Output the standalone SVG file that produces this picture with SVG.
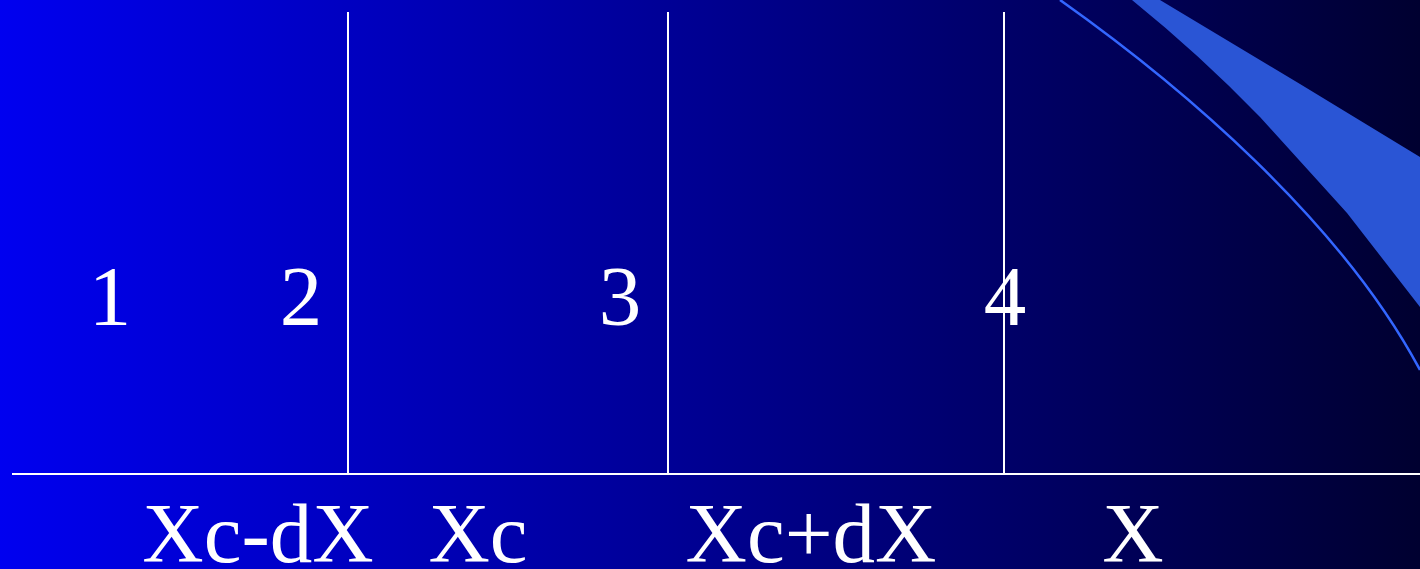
<svg xmlns="http://www.w3.org/2000/svg" width="1420" height="569" viewBox="0 0 1420 569">
  <defs>
    <linearGradient id="bg" x1="0" y1="0" x2="1" y2="0">
      <stop offset="0" stop-color="#0000F0"/>
      <stop offset="1" stop-color="#000030"/>
    </linearGradient>
  </defs>
  <style>
    .lbl { font-family: "Liberation Serif", "Times New Roman", serif; font-size: 85px; fill: #FFFFFF; text-anchor: middle; }
    .axis { stroke: #FFFFFF; stroke-width: 2; fill: none; }
  </style>
  <rect id="background" x="0" y="0" width="1420" height="569" fill="url(#bg)"/>
  <g id="decoration">
    <path d="M1132,0 L1160,0 L1300,84 L1420,157 L1420,307 L1347,213 L1260,117 Q1200,55 1132,0 Z" fill="#2A55D5"/>
    <path d="M1060,0 C1180,85 1340,220 1420,370" fill="none" stroke="#3366FF" stroke-width="2.5"/>
  </g>
  <g id="connectors">
    <line class="axis" x1="12" y1="474" x2="1420" y2="474"/>
    <line class="axis" x1="348" y1="12" x2="348" y2="474"/>
    <line class="axis" x1="668" y1="12" x2="668" y2="474"/>
    <line class="axis" x1="1004" y1="12" x2="1004" y2="474"/>
  </g>
  <g id="region-1"><text class="lbl" x="110" y="325">1</text></g>
  <g id="region-2"><text class="lbl" x="301" y="325">2</text></g>
  <g id="region-3"><text class="lbl" x="620" y="325">3</text></g>
  <g id="region-4"><text class="lbl" x="1005" y="325">4</text></g>
  <g id="tick-xc-dx"><text class="lbl" x="258" y="562">Xc-dX</text></g>
  <g id="tick-xc"><text class="lbl" x="478" y="562">Xc</text></g>
  <g id="tick-xc-plus-dx"><text class="lbl" x="811" y="562">Xc+dX</text></g>
  <g id="tick-x"><text class="lbl" x="1133" y="562">X</text></g>
</svg>
